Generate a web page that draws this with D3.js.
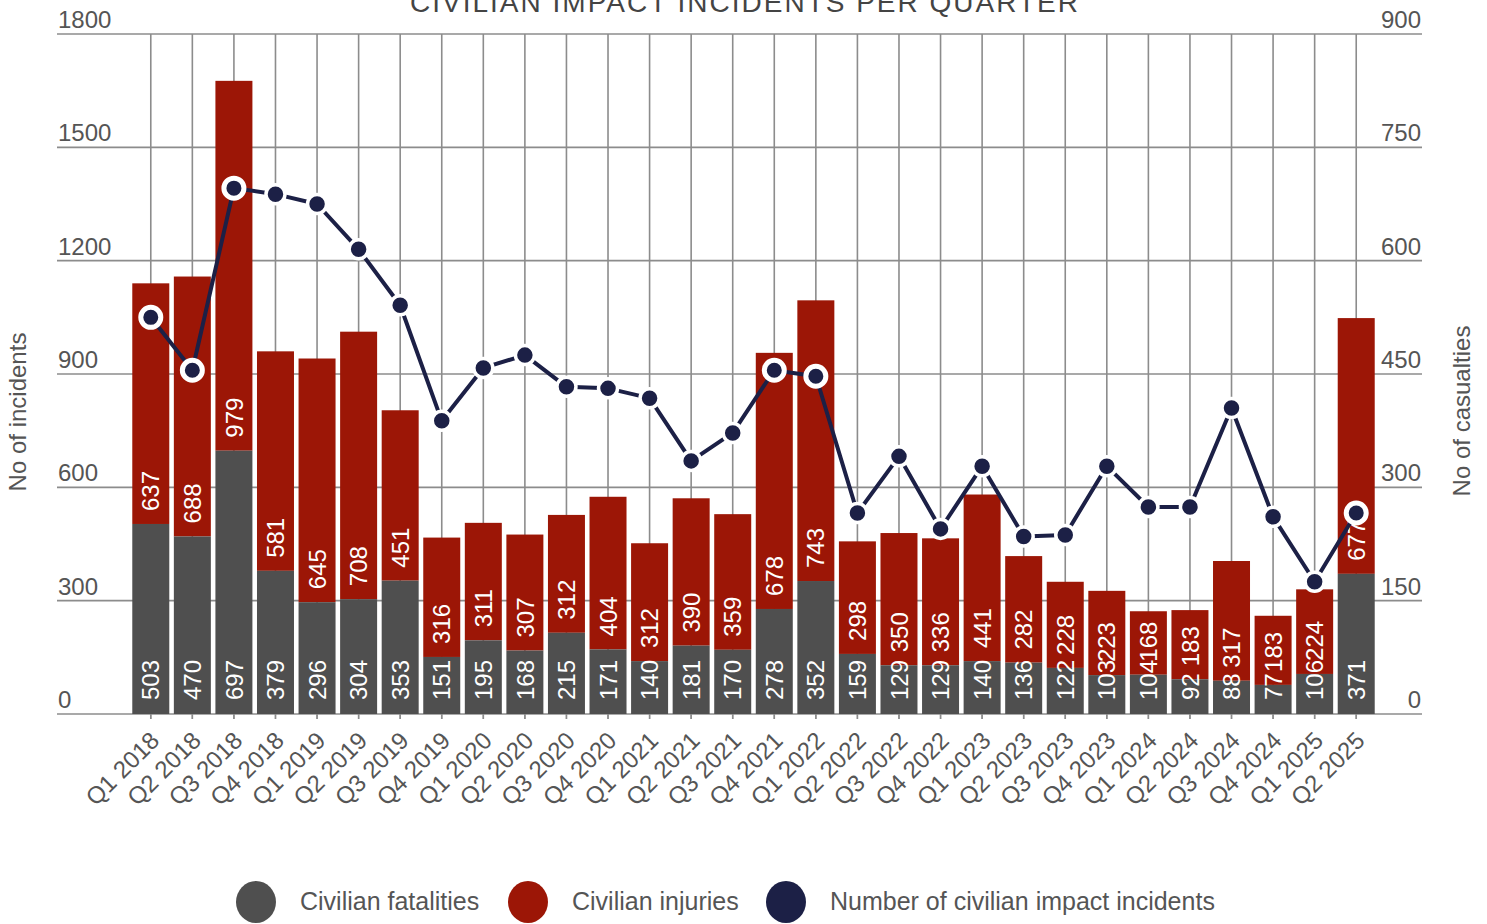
<!DOCTYPE html>
<html>
<head>
<meta charset="utf-8">
<script src="https://cdn.jsdelivr.net/npm/d3@7"></script>
<style>
  html, body { margin: 0; padding: 0; background: #fff; }
  svg { display: block; font-family: "Liberation Sans", Arial, sans-serif; }
</style>
</head>
<body>
<svg id="chart" width="1487" height="924"></svg>
<script>
const categories = ["Q1 2018","Q2 2018","Q3 2018","Q4 2018","Q1 2019","Q2 2019","Q3 2019","Q4 2019",
  "Q1 2020","Q2 2020","Q3 2020","Q4 2020","Q1 2021","Q2 2021","Q3 2021","Q4 2021",
  "Q1 2022","Q2 2022","Q3 2022","Q4 2022","Q1 2023","Q2 2023","Q3 2023","Q4 2023",
  "Q1 2024","Q2 2024","Q3 2024","Q4 2024","Q1 2025","Q2 2025"];
const fatalities = [503,470,697,379,296,304,353,151,195,168,215,171,140,181,170,278,352,159,129,129,140,136,122,103,104,92,88,77,106,371];
const injuries = [637,688,979,581,645,708,451,316,311,307,312,404,312,390,359,678,743,298,350,336,441,282,228,223,168,183,317,183,224,677];
// number of civilian impact incidents (read against the right-hand axis)
const incidents = [525,455,696,688,675,615,541,388,458,475,433,431,418,335,372,455,447,266,341,245,328,235,237,328,274,274,405,261,175,266];
const highlighted = ["Q1 2018","Q2 2018","Q3 2018","Q4 2021","Q1 2022","Q2 2025"];
const leftTicks = [0,300,600,900,1200,1500,1800];
const rightTicks = [0,150,300,450,600,750,900];
const title = "CIVILIAN IMPACT INCIDENTS PER QUARTER";
const leftTitle = "No of incidents";
const rightTitle = "No of casualties";
const legendItems = ["Civilian fatalities","Civilian injuries","Number of civilian impact incidents"];

const C_FAT = "#4f4f4f", C_INJ = "#9c1606", C_LINE = "#1c2046", C_GRID = "#8c8c8c", C_TEXT = "#555";

const svg = d3.select("#chart");
const x = d3.scaleBand().domain(categories).range([130, 1377]).paddingInner(0.11).paddingOuter(0.055);
const y = d3.scaleLinear().domain([0, 1800]).range([714, 34]);
const yR = d3.scaleLinear().domain([0, 900]).range([714, 34]);
const gridLeft = 57, gridRight = 1422;
const cx = d => x(d) + x.bandwidth() / 2;

// title (sits at the very top edge, as in the reference)
svg.append("text").attr("x", 745).attr("y", 12).attr("text-anchor", "middle")
  .attr("font-size", 28).attr("letter-spacing", 2).attr("fill", "#444").text(title);

// horizontal gridlines
svg.append("g").selectAll("line").data(leftTicks).join("line")
  .attr("x1", gridLeft).attr("x2", gridRight)
  .attr("y1", d => y(d)).attr("y2", d => y(d))
  .attr("stroke", C_GRID).attr("stroke-width", 1.6);

// vertical gridlines
svg.append("g").selectAll("line").data(categories).join("line")
  .attr("x1", cx).attr("x2", cx)
  .attr("y1", y(1800)).attr("y2", y(0) + 5)
  .attr("stroke", C_GRID).attr("stroke-width", 1.6);

// left tick labels
svg.append("g").selectAll("text").data(leftTicks).join("text")
  .attr("x", gridLeft + 1).attr("y", d => y(d) - 6)
  .attr("font-size", 24).attr("fill", C_TEXT).text(d => d);
// right tick labels
svg.append("g").selectAll("text").data(rightTicks).join("text")
  .attr("x", gridRight - 1).attr("y", d => yR(d) - 6).attr("text-anchor", "end")
  .attr("font-size", 24).attr("fill", C_TEXT).text(d => d);

// axis titles
svg.append("text").attr("transform", "translate(26,412) rotate(-90)").attr("text-anchor", "middle")
  .attr("font-size", 24).attr("fill", C_TEXT).text(leftTitle);
svg.append("text").attr("transform", "translate(1470,411) rotate(-90)").attr("text-anchor", "middle")
  .attr("font-size", 24).attr("fill", C_TEXT).text(rightTitle);

// bars
const rows = categories.map((c, i) => ({ c, f: fatalities[i], inj: injuries[i], n: incidents[i] }));
const gb = svg.append("g");
gb.selectAll("rect.inj").data(rows).join("rect").attr("class", "inj")
  .attr("x", d => x(d.c)).attr("width", x.bandwidth())
  .attr("y", d => y(d.f + d.inj)).attr("height", d => y(d.f) - y(d.f + d.inj))
  .attr("fill", C_INJ);
gb.selectAll("rect.fat").data(rows).join("rect").attr("class", "fat")
  .attr("x", d => x(d.c)).attr("width", x.bandwidth())
  .attr("y", d => y(d.f)).attr("height", d => y(0) - y(d.f))
  .attr("fill", C_FAT);

// bar labels
const gl = svg.append("g").attr("font-size", 24).attr("fill", "#fff");
gl.selectAll("text.f").data(rows).join("text").attr("class", "f")
  .attr("transform", d => `translate(${cx(d.c)},${y(0) - 14}) rotate(-90)`)
  .attr("dy", "0.36em").text(d => d.f);
gl.selectAll("text.i").data(rows).join("text").attr("class", "i")
  .attr("transform", d => `translate(${cx(d.c)},${y(d.f) - 13}) rotate(-90)`)
  .attr("dy", "0.36em").text(d => d.inj);

// small ticks under axis
svg.append("g").selectAll("line").data(categories).join("line")
  .attr("x1", cx).attr("x2", cx).attr("y1", y(0)).attr("y2", y(0) + 5)
  .attr("stroke", C_GRID).attr("stroke-width", 1.2);

// x labels
svg.append("g").selectAll("text").data(categories).join("text")
  .attr("transform", d => `translate(${cx(d) + 10},${y(0) + 28}) rotate(-45)`)
  .attr("text-anchor", "end").attr("font-size", 24).attr("fill", C_TEXT).text(d => d);

// line
const line = d3.line().x(d => cx(d.c)).y(d => yR(d.n));
svg.append("path").datum(rows).attr("d", line)
  .attr("fill", "none").attr("stroke", C_LINE).attr("stroke-width", 4).attr("stroke-linejoin", "round");
svg.append("g").selectAll("circle").data(rows).join("circle")
  .attr("cx", d => cx(d.c)).attr("cy", d => yR(d.n))
  .attr("r", d => highlighted.includes(d.c) ? 10 : 9.5)
  .attr("fill", C_LINE).attr("stroke", "#fff")
  .attr("stroke-width", d => highlighted.includes(d.c) ? 5 : 3.5);

// legend
const legendColors = [C_FAT, C_INJ, C_LINE];
const legendX = [256, 528, 786];
const lg = svg.append("g");
legendItems.forEach((t, i) => {
  lg.append("ellipse").attr("cx", legendX[i]).attr("cy", 902).attr("rx", 20).attr("ry", 21).attr("fill", legendColors[i]);
  lg.append("text").attr("x", legendX[i] + 44).attr("y", 910).attr("font-size", 25).attr("fill", C_TEXT).text(t);
});
</script>
</body>
</html>
